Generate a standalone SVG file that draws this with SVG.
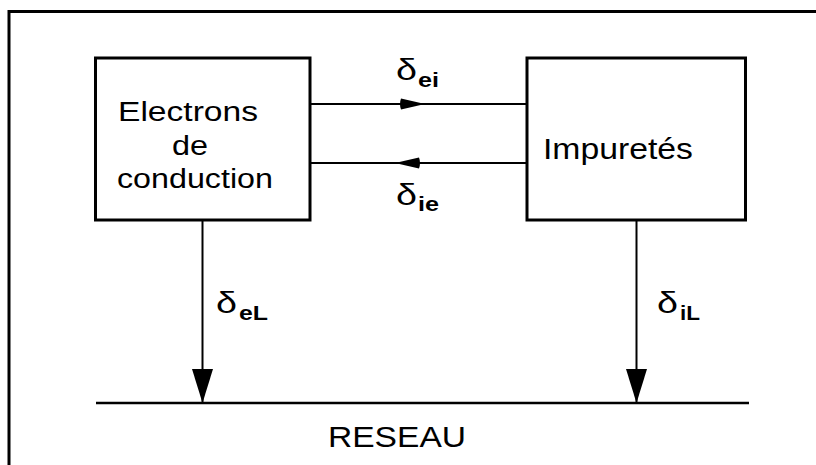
<svg xmlns="http://www.w3.org/2000/svg" width="816" height="465" viewBox="0 0 816 465">
<style>
.frame{fill:none;stroke:#000;stroke-width:3}
.box{fill:#fff;stroke:#000;stroke-width:3}
.line{fill:none;stroke:#000;stroke-width:2}
.ground{fill:none;stroke:#000;stroke-width:2.5}
.t{font-family:"Liberation Sans",Arial,sans-serif;font-size:27px;fill:#000}
.d{font-family:"Liberation Sans",Arial,sans-serif;font-size:30px;fill:#000}
.s{font-family:"Liberation Sans",Arial,sans-serif;font-size:21px;font-weight:bold;fill:#000}
</style>
<defs>
<marker id="ah" markerUnits="userSpaceOnUse" viewBox="0 0 24 12" refX="24" refY="6" markerWidth="24" markerHeight="12" orient="auto" overflow="visible">
<path d="M0,0.5 L24,6 L0,11.5 Q-2,6 0,0.5 Z" fill="#000"/>
</marker>
<marker id="av" markerUnits="userSpaceOnUse" viewBox="0 0 34 21" refX="34" refY="10.5" markerWidth="34" markerHeight="21" orient="auto">
<path d="M0,0 L34,10.5 L0,21 Z" fill="#000"/>
</marker>
</defs>
<rect width="816" height="465" fill="#fff"/>
<path class="frame" d="M9,470 V11.5 H820"/>

<g id="connectors">
<path class="line" d="M310,104 H425" marker-end="url(#ah)"/>
<path class="line" d="M425,104 H527"/>
<path class="line" d="M527,163 H395" marker-end="url(#ah)"/>
<path class="line" d="M395,163 H310"/>
<path class="line" d="M202.5,220 V403" marker-end="url(#av)"/>
<path class="line" d="M636.5,220 V403" marker-end="url(#av)"/>
<text class="d" x="396" y="80" textLength="21" lengthAdjust="spacingAndGlyphs">δ</text><text class="s" x="418" y="87" textLength="21" lengthAdjust="spacingAndGlyphs">ei</text>
<text class="d" x="396" y="205" textLength="21" lengthAdjust="spacingAndGlyphs">δ</text><text class="s" x="418" y="211" textLength="21" lengthAdjust="spacingAndGlyphs">ie</text>
<text class="d" x="216" y="313" textLength="21" lengthAdjust="spacingAndGlyphs">δ</text><text class="s" x="239" y="320" textLength="29" lengthAdjust="spacingAndGlyphs">eL</text>
<text class="d" x="657" y="313" textLength="21" lengthAdjust="spacingAndGlyphs">δ</text><text class="s" x="680" y="320" textLength="20" lengthAdjust="spacingAndGlyphs">iL</text>
</g>

<g id="electrons">
<rect class="box" x="95.5" y="58" width="214.5" height="162"/>
<text class="t" x="118" y="121" textLength="140" lengthAdjust="spacingAndGlyphs">Electrons</text>
<text class="t" x="172" y="155" textLength="36" lengthAdjust="spacingAndGlyphs">de</text>
<text class="t" x="117" y="188" textLength="156" lengthAdjust="spacingAndGlyphs">conduction</text>
</g>

<g id="impuretes">
<rect class="box" x="527" y="58" width="218.5" height="162"/>
<text class="t" style="font-size:29px" x="543" y="159" textLength="150" lengthAdjust="spacingAndGlyphs">Impuretés</text>
</g>

<g id="reseau">
<path class="ground" d="M96,403 H749"/>
<text class="t" style="font-size:29px" x="328" y="447" textLength="138" lengthAdjust="spacingAndGlyphs">RESEAU</text>
</g>
</svg>
